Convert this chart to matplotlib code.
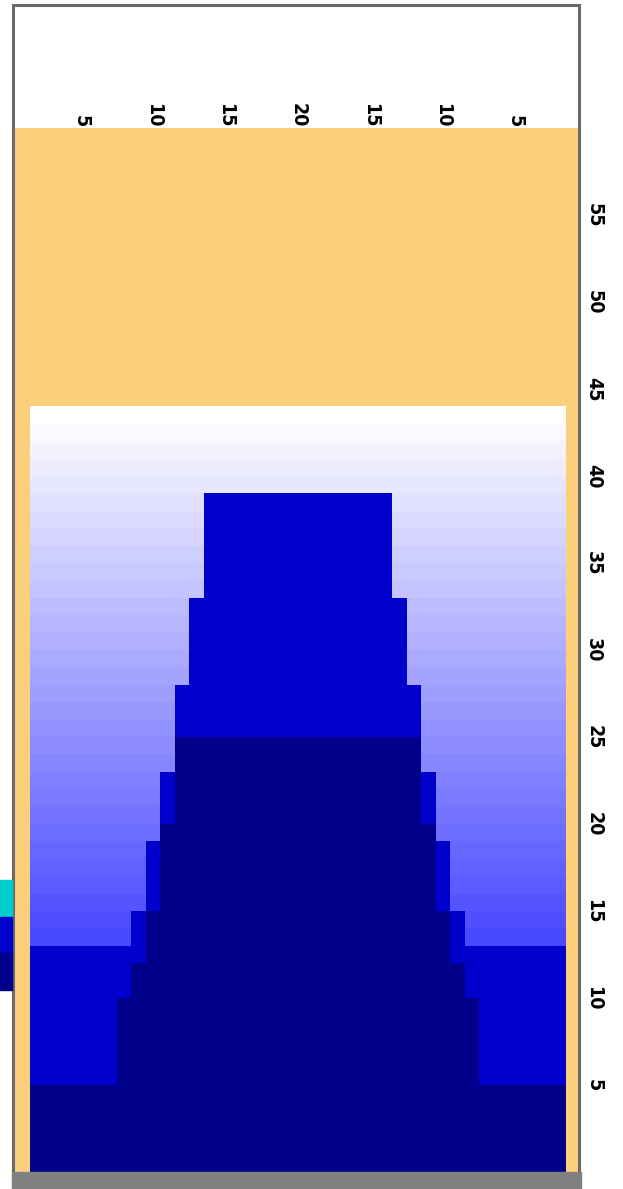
import numpy as np
import matplotlib
matplotlib.use("Agg")
import matplotlib.pyplot as plt
from matplotlib.colors import LinearSegmentedColormap, ListedColormap
from matplotlib.patches import Rectangle

# grid size (columns x rows) and filled height
n_cols = 37
n_rows = 60
fill_rows = 44

# indent (in columns, from each side) of the dark layer, per block of rows
navy_rows = [(1, 5), (6, 10), (11, 12), (13, 15), (16, 20), (21, 25)]
navy_indent = [0, 6, 7, 8, 9, 10]

# indent of the mid-blue layer, per block of rows
blue_rows = [(1, 13), (14, 15), (16, 19), (20, 23), (24, 28), (29, 33), (34, 39)]
blue_indent = [0, 7, 8, 9, 10, 11, 12]

col_tick_pos = [4, 9, 14, 19, 24, 29, 34]
col_tick_lab = ["5", "10", "15", "20", "15", "10", "5"]
row_ticks = [5, 10, 15, 20, 25, 30, 35, 40, 45, 50, 55]

c_orange = "#FCD07A"
c_navy = "#00008B"
c_blue = "#0000CD"
c_cyan = "#00CDCD"


def layer(blocks, indents):
    m = np.zeros((n_rows, n_cols), dtype=bool)
    for (r0, r1), ind in zip(blocks, indents):
        m[r0 - 1:r1, ind:n_cols - ind] = True
    return m


navy = layer(navy_rows, navy_indent)
blue = layer(blue_rows, blue_indent)

# background shade follows the row number
rows_idx = np.arange(1, n_rows + 1)[:, None] * np.ones((1, n_cols))
bg = np.ma.masked_where(rows_idx > fill_rows, rows_idx)

W, H = 623, 1189
fig = plt.figure(figsize=(W / 100, H / 100), dpi=100)
ax = fig.add_axes([15 / W, 1 - 1172 / H, (578 - 15) / W, (1172 - 128) / H])
ax.set_facecolor(c_orange)

xe = np.arange(n_cols + 1)
ye = np.arange(n_rows + 1)
shade = LinearSegmentedColormap.from_list("shade", ["#4646FF", "#FFFFFF"])
ax.pcolormesh(xe, ye, bg, cmap=shade, vmin=13.5, vmax=fill_rows)
ax.pcolormesh(xe, ye, np.ma.masked_where(~blue, np.ones_like(rows_idx)),
              cmap=ListedColormap([c_blue]))
ax.pcolormesh(xe, ye, np.ma.masked_where(~navy, np.ones_like(rows_idx)),
              cmap=ListedColormap([c_navy]))

px = n_cols / (566 - 30)
ax.set_xlim(-15 * px, n_cols + 12 * px)
ax.set_ylim(0, n_rows)
for s in ax.spines.values():
    s.set_visible(False)

lab_font = dict(family=["DejaVu Sans"], fontsize=14, fontweight="bold",
                fontstretch="condensed")
ax.set_xticks([p - 0.5 for p in col_tick_pos])
ax.set_xticklabels(col_tick_lab, rotation=-90, **lab_font)
ax.xaxis.tick_top()
ax.tick_params(axis="x", length=0, pad=0.5)
ax.set_yticks(row_ticks)
ax.set_yticklabels([str(v) for v in row_ticks], rotation=-90, va="center",
                   **lab_font)
ax.yaxis.tick_right()
ax.tick_params(axis="y", length=0, pad=4.5)

# outer frame, bottom band and clipped legend swatches
fig.add_artist(Rectangle((13 / W, -0.01), (579 - 13) / W, 1 - 5 / H + 0.01,
                         transform=fig.transFigure, fill=False,
                         edgecolor="#6A6A6A", linewidth=2.2))
fig.add_artist(Rectangle((12 / W, 0), (581 - 12) / W, (H - 1172) / H,
                         transform=fig.transFigure, color="#808080"))
for y0, y1, c in [(880, 917, c_cyan), (917, 953, c_blue), (953, 990, c_navy)]:
    fig.add_artist(Rectangle((0, 1 - y1 / H), 12 / W, (y1 - y0) / H,
                             transform=fig.transFigure, color=c))

fig.savefig("out.png", dpi=100)
